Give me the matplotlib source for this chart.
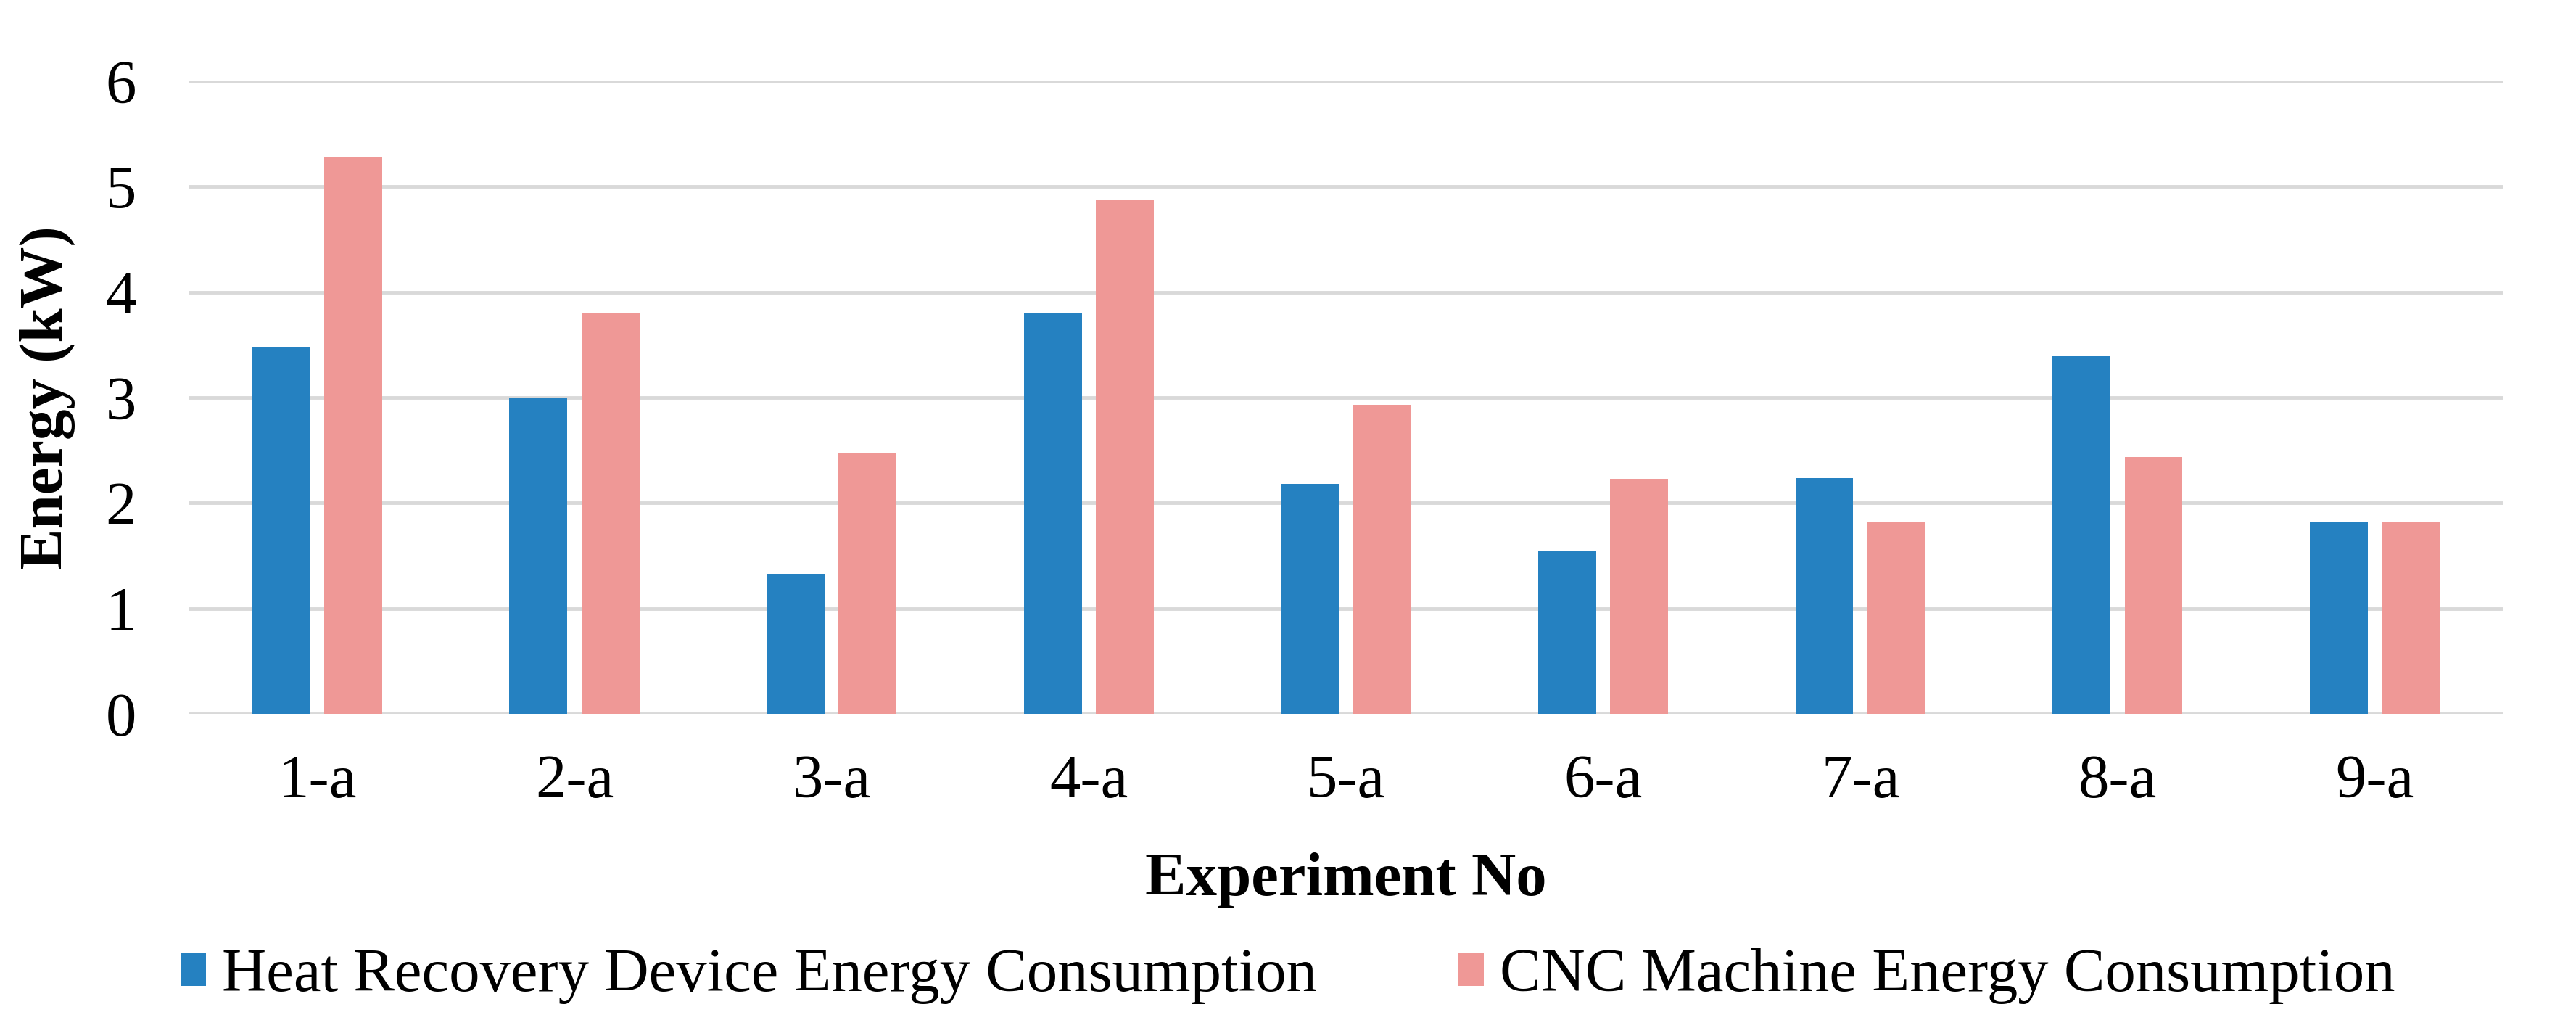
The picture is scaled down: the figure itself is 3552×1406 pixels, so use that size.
import numpy as np
import matplotlib
matplotlib.use('Agg')
import matplotlib.pyplot as plt

plt.rcParams['font.family'] = ['Liberation Serif', 'DejaVu Serif']

experiments = ['1-a', '2-a', '3-a', '4-a', '5-a', '6-a', '7-a', '8-a', '9-a']
heat_recovery = [3.48, 3.0, 1.33, 3.8, 2.18, 1.54, 2.24, 3.39, 1.82]
cnc_machine = [5.28, 3.8, 2.48, 4.88, 2.93, 2.23, 1.82, 2.44, 1.82]
yticks = [0, 1, 2, 3, 4, 5, 6]

blue = '#2581C1'
pink = '#EF9896'
fs = 61

fig = plt.figure(figsize=(35.52, 14.06), dpi=100)
ax = fig.add_axes([0.0732, 0.300, 0.8986, 0.6203])

x = np.arange(len(experiments))
w = 0.225
off = 0.14
ax.bar(x - off, heat_recovery, width=w, color=blue, label='Heat Recovery Device Energy Consumption', zorder=3)
ax.bar(x + off, cnc_machine, width=w, color=pink, label='CNC Machine Energy Consumption', zorder=3)

ax.set_xlim(-0.5, len(experiments) - 0.5)
ax.set_ylim(0, 6)
ax.set_yticks(yticks)
ax.set_xticks(x)
ax.set_xticklabels(experiments)
ax.yaxis.grid(True, color='#D9D9D9', linewidth=3.5, zorder=0)
ax.set_axisbelow(True)
for s in ax.spines.values():
    s.set_visible(False)
ax.tick_params(axis='both', length=0, labelsize=fs)
ax.tick_params(axis='y', pad=52)
ax.tick_params(axis='x', pad=40)

ax.set_ylabel('Energy (kW)', fontsize=fs, fontweight='bold', labelpad=30)
ax.set_xlabel('Experiment No', fontsize=fs, fontweight='bold', labelpad=42)

fig.legend(loc='center', bbox_to_anchor=(0.5, 0.043), ncol=2, frameon=False,
           fontsize=fs, handlelength=0.41, handleheight=0.47, handletextpad=0.26,
           columnspacing=2.3)

fig.savefig('out.png', dpi=100, facecolor='white')
